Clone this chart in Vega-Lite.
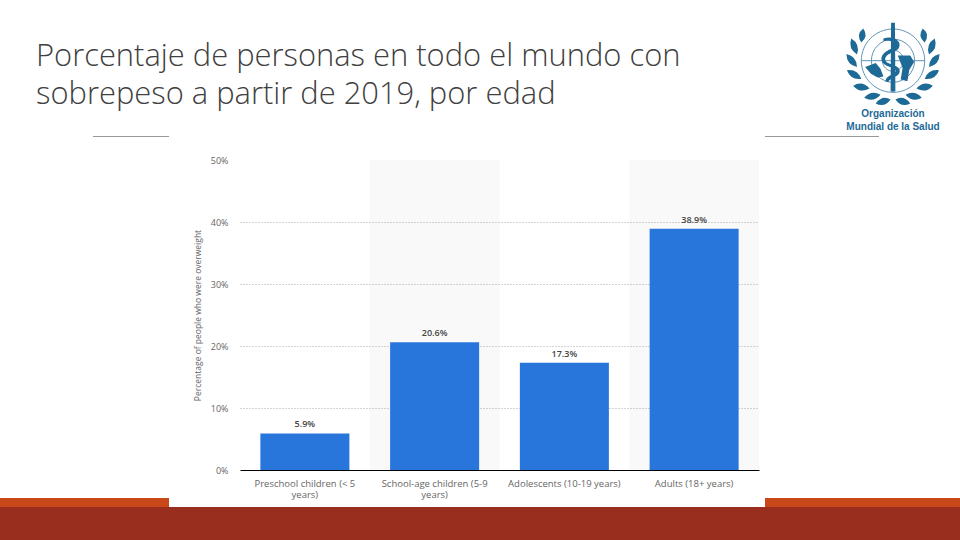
{"$schema":"https://vega.github.io/schema/vega-lite/v6.json","width":519,"height":310,"autosize":{"type":"none"},"padding":{"left":240,"top":160,"right":201,"bottom":70},"background":"#ffffff",
"config":{"view":{"stroke":null}},
"data":{"values":[{"grupo":"Preschool children (< 5 years)","valor":0.059},{"grupo":"School-age children (5-9 years)","valor":0.206},{"grupo":"Adolescents (10-19 years)","valor":0.173},{"grupo":"Adults (18+ years)","valor":0.389}]},
"layer":[
{"data":{"values":[{"titulo":"Porcentaje"}]},"mark":{"type":"text","text":["Porcentaje de personas en todo el mundo con","sobrepeso a partir de 2019, por edad"],"align":"left","baseline":"alphabetic","fontSize":30.9,"lineHeight":38,"font":"Open Sans","fontWeight":300,"color":"#404040"},"encoding":{"x":{"value":-204},"y":{"value":-94}}},
{"data":{"values":[{"franja":"roja"}]},"mark":{"type":"rect","color":"#992d1e","clip":false},"encoding":{"x":{"value":-240},"x2":{"value":720},"y":{"value":347},"y2":{"value":380}}},
{"data":{"values":[{"franja":"izquierda"}]},"mark":{"type":"rect","color":"#c8481a","clip":false},"encoding":{"x":{"value":-240},"x2":{"value":-71},"y":{"value":338},"y2":{"value":347}}},
{"data":{"values":[{"franja":"derecha"}]},"mark":{"type":"rect","color":"#c8481a","clip":false},"encoding":{"x":{"value":525},"x2":{"value":720},"y":{"value":338},"y2":{"value":347}}},
{"data":{"values":[{"linea":"izquierda"}]},"mark":{"type":"rule","color":"#999999","strokeWidth":1},"encoding":{"x":{"value":-147},"x2":{"value":-71},"y":{"value":-23.5}}},
{"data":{"values":[{"linea":"derecha"}]},"mark":{"type":"rule","color":"#999999","strokeWidth":1},"encoding":{"x":{"value":525},"x2":{"value":639},"y":{"value":-23.5}}},
{"data":{"values":[{"grupo":"School-age children (5-9 years)"},{"grupo":"Adults (18+ years)"}]},"mark":{"type":"bar","color":"#000000","opacity":0.025},"encoding":{"x":{"field":"grupo","type":"nominal","axis":null,"sort":null,"scale":{"domain":["Preschool children (< 5 years)","School-age children (5-9 years)","Adolescents (10-19 years)","Adults (18+ years)"],"paddingInner":0,"paddingOuter":0}},"y":{"datum":0.5,"type":"quantitative","scale":{"domain":[0,0.5]},"axis":{"title":"Percentage of people who were overweight","titleFont":"Open Sans","titleFontSize":8.5,"titleFontWeight":"normal","titleColor":"#666666","titlePadding":8,"format":".0%","values":[0,0.1,0.2,0.3,0.4,0.5],"labelColor":"#666666","labelFont":"Open Sans","labelFontSize":9,"labelPadding":12,"tickSize":0,"domain":false,"grid":true,"gridColor":"#aaaaaa","gridDash":[1,2],"gridOpacity":{"condition":{"test":"datum.value===0||datum.value===0.5","value":0},"value":1}}},"y2":{"datum":0}}},
{"mark":{"type":"bar","color":"#2875dc"},"encoding":{"x":{"field":"grupo","type":"nominal","sort":null,"scale":{"domain":["Preschool children (< 5 years)","School-age children (5-9 years)","Adolescents (10-19 years)","Adults (18+ years)"],"paddingInner":0.314,"paddingOuter":0.157},"axis":{"title":null,"labelAngle":0,"labelColor":"#666666","labelFont":"Open Sans","labelFontSize":9.5,"labelPadding":8,"labelLimit":200,"labelLineHeight":11,"tickSize":0,"domainColor":"#000000","domainWidth":1,"labelExpr":"indexof(datum.label,'(<')>0?['Preschool children (< 5','years)']:indexof(datum.label,'5-9')>0?['School-age children (5-9','years)']:datum.label"}},"y":{"field":"valor","type":"quantitative"}}},
{"mark":{"type":"text","baseline":"bottom","dy":-4,"font":"Open Sans","fontSize":9,"fontWeight":600,"color":"#444444"},"encoding":{"x":{"field":"grupo","type":"nominal","sort":null,"axis":null,"scale":{"domain":["Preschool children (< 5 years)","School-age children (5-9 years)","Adolescents (10-19 years)","Adults (18+ years)"],"paddingInner":0.314,"paddingOuter":0.157}},"y":{"field":"valor","type":"quantitative"},"text":{"field":"valor","type":"quantitative","format":".1%"}}},
{"data":{"values":[{"logo":"trazos"}]},"mark":{"type":"point","filled":false,"stroke":"#1d6a96","strokeWidth":1,"shape":"M0.66,-0.09A0.66,0.66,0,1,1,-0.66,-0.09A0.66,0.66,0,1,1,0.66,-0.09ZM0.45,-0.09A0.45,0.45,0,1,1,-0.45,-0.09A0.45,0.45,0,1,1,0.45,-0.09ZM0.22,-0.09A0.22,0.22,0,1,1,-0.22,-0.09A0.22,0.22,0,1,1,0.22,-0.09ZM-0.66,-0.09L0.66,-0.09M0,-0.75L0,0.57","size":9216},"encoding":{"x":{"value":653},"y":{"value":-95}}},
{"data":{"values":[{"logo":"rellenos"}]},"mark":{"type":"point","filled":true,"fill":"#1d6a96","opacity":1,"shape":"M-.05,.72Q-.18,.90,-.36,.80Q-.22,.62,-.05,.72ZM-.26,.62Q-.41,.79,-.60,.68Q-.45,.51,-.26,.62ZM-.49,.49Q-.636,.32,-.83,.43Q-.684,.60,-.49,.49ZM-.66,.29Q-.738,.08,-.96,.11Q-.882,.32,-.66,.29ZM-.75,.04Q-.752,-.183,-.97,-.23Q-.968,-.007,-.75,.04ZM-.75,-.22Q-.678,-.433,-.87,-.55Q-.942,-.337,-.75,-.22ZM-.66,-.47Q-.502,-.595,-.62,-.76Q-.778,-.635,-.66,-.47ZM.05,.72Q.18,.90,.36,.80Q.22,.62,.05,.72ZM.26,.62Q.41,.79,.60,.68Q.45,.51,.26,.62ZM.49,.49Q.636,.32,.83,.43Q.684,.60,.49,.49ZM.66,.29Q.738,.08,.96,.11Q.882,.32,.66,.29ZM.75,.04Q.752,-.183,.97,-.23Q.968,-.007,.75,.04ZM.75,-.22Q.678,-.433,.87,-.55Q.942,-.337,.75,-.22ZM.66,-.47Q.502,-.595,.62,-.76Q.778,-.635,.66,-.47ZM-0.04,-0.88L0.04,-0.88L0.05,0.55L-0.05,0.55ZM-0.2,-0.55C0,-0.62,0.2,-0.5,0.12,-0.35C0.05,-0.25,-0.18,-0.25,-0.16,-0.1C-0.14,0,0.16,-0.02,0.14,0.14C0.12,0.26,-0.08,0.26,-0.1,0.36L-0.16,0.34C-0.14,0.2,0.06,0.2,0.06,0.12C0.06,0.04,-0.24,0.04,-0.24,-0.12C-0.24,-0.3,0.02,-0.32,0.04,-0.42C0.06,-0.5,-0.1,-0.52,-0.2,-0.5ZM-0.58,0.04L-0.36,-0.04L-0.26,0.08L-0.2,0.24L-0.32,0.26L-0.46,0.18ZM0.1,-0.2L0.36,-0.2L0.44,-0.06L0.34,0.1L0.3,0.34L0.16,0.3L0.2,0.06Z","size":9216},"encoding":{"x":{"value":653},"y":{"value":-95}}},
{"data":{"values":[{"nombre":"Organización"}]},"mark":{"type":"text","text":"Organización","font":"Liberation Sans","fontSize":10,"fontWeight":"bold","color":"#1d6a96","align":"center","baseline":"middle"},"encoding":{"x":{"value":653},"y":{"value":-46}}},
{"data":{"values":[{"nombre":"Mundial de la Salud"}]},"mark":{"type":"text","text":"Mundial de la Salud","font":"Liberation Sans","fontSize":10,"fontWeight":"bold","color":"#1d6a96","align":"center","baseline":"middle"},"encoding":{"x":{"value":653},"y":{"value":-33}}}
],
"resolve":{"scale":{"x":"independent"}}}
